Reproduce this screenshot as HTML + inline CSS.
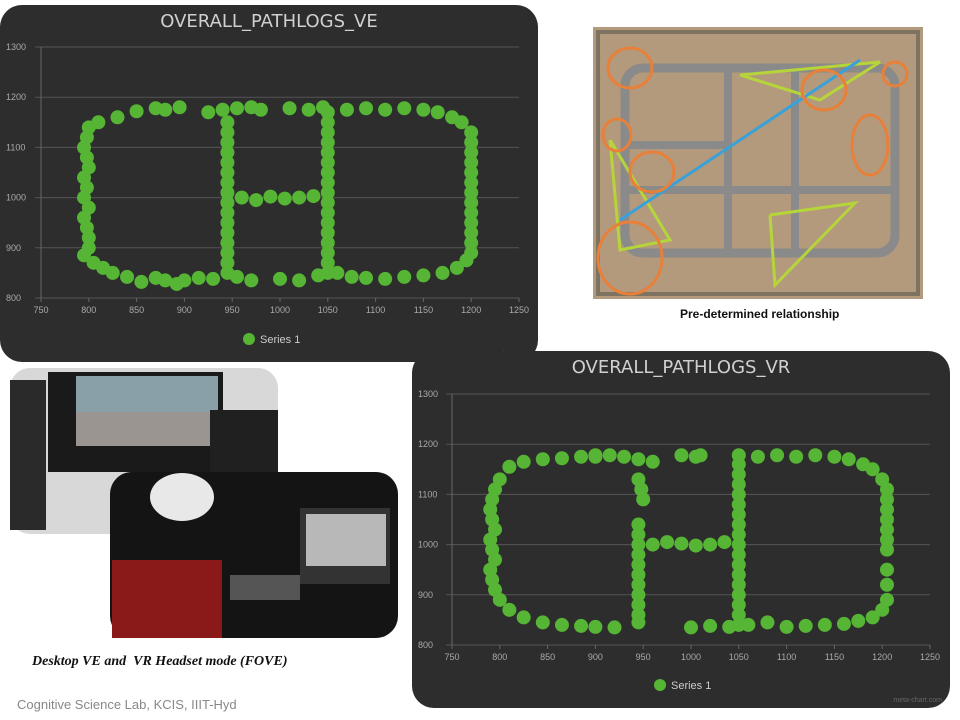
<!DOCTYPE html>
<html><head><meta charset="utf-8"><style>
body{margin:0;width:960px;height:720px;background:#fff;position:relative;overflow:hidden;font-family:"Liberation Sans",sans-serif}
.abs{position:absolute}
</style></head><body>
<svg class="abs" style="left:0;top:0" width="960" height="720" id="svg">
  <g>
    <rect x="593" y="27" width="330" height="272" fill="#b39a7c"/>
    <rect x="598" y="32" width="320" height="262" fill="none" stroke="#7d7360" stroke-width="4"/>
    <rect x="625" y="68" width="270" height="185" rx="18" fill="none" stroke="#8a8a8a" stroke-width="9"/>
    <line x1="728" y1="68" x2="728" y2="253" stroke="#8a8a8a" stroke-width="8"/>
    <line x1="795" y1="68" x2="795" y2="253" stroke="#8a8a8a" stroke-width="8"/>
    <line x1="625" y1="190" x2="895" y2="190" stroke="#8a8a8a" stroke-width="8"/>
    <line x1="625" y1="145" x2="728" y2="145" stroke="#8a8a8a" stroke-width="8"/>
    <polyline points="740,75 880,62 820,100 740,75" fill="none" stroke="#b5d53a" stroke-width="3"/>
    <polyline points="770,215 855,203 775,285 770,215" fill="none" stroke="#b5d53a" stroke-width="3"/>
    <polyline points="610,140 670,240 620,250 610,140" fill="none" stroke="#b5d53a" stroke-width="3"/>
    <line x1="620" y1="220" x2="860" y2="60" stroke="#3aa0d8" stroke-width="3"/>
    <g fill="none" stroke="#e8803a" stroke-width="3">
      <ellipse cx="630" cy="68" rx="22" ry="20"/><ellipse cx="617" cy="135" rx="14" ry="16"/>
      <ellipse cx="652" cy="172" rx="22" ry="20"/><ellipse cx="630" cy="258" rx="32" ry="36"/>
      <ellipse cx="824" cy="90" rx="22" ry="20"/><ellipse cx="870" cy="145" rx="18" ry="30"/>
      <ellipse cx="895" cy="74" rx="12" ry="12"/>
    </g>
  </g>
  <g>
    <rect x="10" y="368" width="268" height="166" rx="20" fill="#d8d8d8"/>
    <rect x="48" y="372" width="175" height="100" fill="#1a1a1a"/>
    <rect x="76" y="376" width="142" height="36" fill="#8aa0a8"/>
    <rect x="76" y="412" width="142" height="34" fill="#9a9590"/>
    <rect x="10" y="380" width="36" height="150" fill="#2a2a2a"/>
    <rect x="210" y="410" width="68" height="80" fill="#202020"/>
  </g>
  <g>
    <rect x="110" y="472" width="288" height="166" rx="22" fill="#141414"/>
    <rect x="300" y="508" width="90" height="76" fill="#333"/>
    <rect x="306" y="514" width="80" height="52" fill="#b8b8b8"/>
    <ellipse cx="182" cy="497" rx="32" ry="24" fill="#e8e8e8"/>
    <rect x="112" y="560" width="110" height="78" fill="#8a1a1a"/>
    <rect x="230" y="575" width="70" height="25" fill="#555"/>
  </g>
</svg>
<div class="abs" style="left:680px;top:307px;font-size:12px;font-weight:bold;color:#111">Pre-determined relationship</div>
<div class="abs" style="left:32px;top:654px;font-family:'Liberation Serif',serif;font-style:italic;font-weight:bold;font-size:14px;color:#111">Desktop VE and &nbsp;VR Headset mode (FOVE)</div>
<div class="abs" style="left:17px;top:697px;font-size:13px;color:#888">Cognitive Science Lab, KCIS, IIIT-Hyd</div>
<script>
const veX=[850,870,880,895,830,810,800,798,795,798,800,795,798,795,800,795,798,800,800,795,805,815,825,840,855,870,880,892,
925,940,955,970,980,945,945,945,945,945,945,945,945,945,945,945,945,945,945,945,945,900,915,930,955,970,960,975,990,1005,1020,1035,
1050,1050,1050,1050,1050,1050,1050,1050,1050,1050,1050,1050,1050,1050,1050,1050,1050,1000,1020,1040,1060,1010,1030,1045,
1070,1090,1110,1130,1150,1165,1180,1190,1200,1200,1200,1200,1200,1200,1200,1200,1200,1200,1200,1200,1200,1195,1185,1170,1150,1130,1110,1090,1075];
const veY=[1172,1178,1175,1180,1160,1150,1140,1120,1100,1080,1060,1040,1020,1000,980,960,940,920,900,885,870,860,850,842,832,840,835,828,
1170,1175,1178,1180,1175,1150,1130,1110,1090,1070,1050,1030,1010,990,970,950,930,910,890,870,850,835,840,838,842,835,1000,995,1002,998,1000,1003,
1170,1150,1130,1110,1090,1070,1050,1030,1010,990,970,950,930,910,890,870,850,838,835,845,850,1178,1175,1180,
1175,1178,1175,1178,1175,1170,1160,1150,1130,1110,1090,1070,1050,1030,1010,990,970,950,930,910,890,875,860,850,845,842,838,840,842,835];
const vrX=[810,825,845,865,885,900,800,795,792,790,792,795,790,792,795,790,792,795,800,810,825,845,865,885,900,920,
900,915,930,945,960,945,948,950,945,945,945,945,945,945,945,945,945,945,945,960,975,990,1005,1020,1035,990,1005,1010,
1050,1050,1050,1050,1050,1050,1050,1050,1050,1050,1050,1050,1050,1050,1050,1050,1050,1050,1000,1020,1040,1060,1080,
1070,1090,1110,1130,1150,1165,1180,1190,1200,1205,1205,1205,1205,1205,1205,1205,1205,1205,1205,1200,1190,1175,1160,1140,1120,1100];
const vrY=[1155,1165,1170,1172,1175,1178,1130,1110,1090,1070,1050,1030,1010,990,970,950,930,910,890,870,855,845,840,838,836,835,
1175,1178,1175,1170,1165,1130,1110,1090,1040,1020,1000,980,960,940,920,900,880,860,845,1000,1005,1002,998,1000,1005,1178,1175,1178,
1178,1160,1140,1120,1100,1080,1060,1040,1020,1000,980,960,940,920,900,880,860,840,835,838,836,840,845,
1175,1178,1175,1178,1175,1170,1160,1150,1130,1110,1090,1070,1050,1030,1010,990,950,920,890,870,855,848,842,840,838,836];
const xTicks=[750,800,850,900,950,1000,1050,1100,1150,1200,1250];
const yTicks=[800,900,1000,1100,1200,1300];
const NS='http://www.w3.org/2000/svg';
const svg=document.getElementById('svg');
function el(t,a,p){const e=document.createElementNS(NS,t);for(const k in a)e.setAttribute(k,a[k]);(p||svg).appendChild(e);return e;}
function chart(bx,by,bw,bh,px0,px1,py0,py1,title,xs,ys,legY,legX){
  const g=el('g',{});
  
  
  el('rect',{x:bx,y:by,width:bw,height:bh,rx:22,fill:'#2d2d2e'},g);
  const t=el('text',{x:bx+bw/2,y:by+22,'text-anchor':'middle',fill:'#d0d0d0','font-size':18,'font-family':'DejaVu Sans'},g);
  t.textContent=title;
  
  
  const sx=v=>px0+(v-750)/500*(px1-px0), sy=v=>py0+(v-800)/500*(py1-py0);
  yTicks.forEach(v=>{
    el('line',{x1:px0-6,x2:px1,y1:sy(v),y2:sy(v),stroke:'#555','stroke-width':1},g);
    const l=el('text',{x:bx+6,y:sy(v)+3,fill:'#aaa','font-size':9},g);l.textContent=v;
    
    
  });
  el('line',{x1:px0,x2:px0,y1:py1,y2:py0,stroke:'#666'},g);
  xTicks.forEach(v=>{
    el('line',{x1:sx(v),x2:sx(v),y1:py0,y2:py0+4,stroke:'#666'},g);
    const l=el('text',{x:sx(v),y:py0+15,fill:'#aaa','font-size':9,'text-anchor':'middle'},g);l.textContent=v;
    
    
  });
  xs.forEach((v,i)=>{
    const c=el('circle',{cx:sx(v),cy:sy(ys[i]),r:7,fill:'#56b534'},g);
    
    
  });
  const lc=el('circle',{cx:legX,cy:legY,r:6,fill:'#56b534'},g);
  
  
  const lt=el('text',{x:legX+11,y:legY+4,fill:'#ccc','font-size':11},g);lt.textContent='Series 1';
  
  
  const w=el('text',{x:bx+bw-8,y:by+bh-6,fill:'#666','font-size':7,'text-anchor':'end'},g);w.textContent='meta-chart.com';
}
chart(0,5,538,357,41,519,298,47,'OVERALL_PATHLOGS_VE',veX,veY,339,249);
chart(412,351,538,357,452,930,645,394,'OVERALL_PATHLOGS_VR',vrX,vrY,685,660);
</script>
</body></html>
